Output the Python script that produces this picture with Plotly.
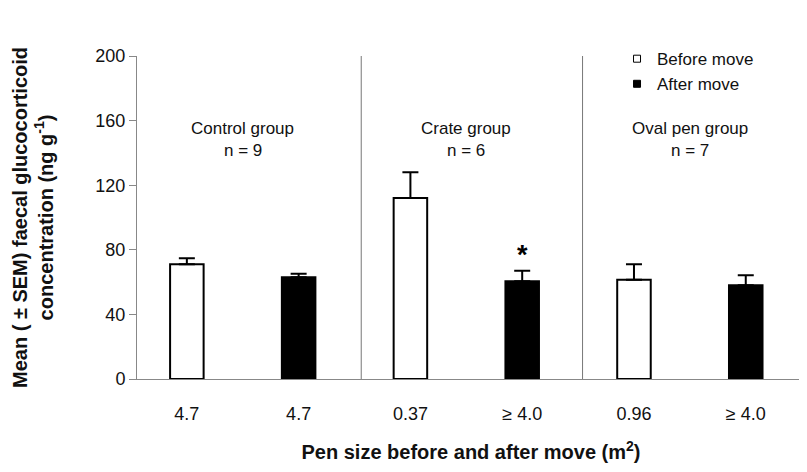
import plotly.graph_objects as go

x_pos = [0, 1, 2, 3, 4, 5]
tick_labels = ["4.7", "4.7", "0.37", "≥ 4.0", "0.96", "≥ 4.0"]
before_x = [0, 2, 4]
after_x = [1, 3, 5]
before_vals = [71, 112, 61.5]
before_err = [3.7, 16, 9.6]
after_vals = [63, 60.5, 58]
after_err = [2.2, 6.5, 6.3]
groups = ["Control group", "Crate group", "Oval pen group"]
group_n = ["n = 9", "n = 6", "n = 7"]
group_x = [0.5, 2.5, 4.5]
dividers = [1.56, 3.54]

FONT = "Liberation Sans, Arial, sans-serif"

fig = go.Figure()
fig.add_trace(go.Bar(
    x=before_x, y=before_vals, width=0.3,
    marker=dict(color="white", line=dict(color="black", width=2)),
    error_y=dict(type="data", array=before_err, arrayminus=[0]*3, symmetric=False,
                 color="black", thickness=2, width=8),
    showlegend=False))
fig.add_trace(go.Bar(
    x=after_x, y=after_vals, width=0.3,
    marker=dict(color="black", line=dict(color="black", width=2)),
    error_y=dict(type="data", array=after_err, arrayminus=[0]*3, symmetric=False,
                 color="black", thickness=2, width=8),
    showlegend=False))
# legend entries
fig.add_trace(go.Scatter(x=[None], y=[None], mode="markers", name="Before move",
                         marker=dict(symbol="square", size=7, color="white",
                                     line=dict(color="black", width=1))))
fig.add_trace(go.Scatter(x=[None], y=[None], mode="markers", name="After move",
                         marker=dict(symbol="square", size=7, color="black",
                                     line=dict(color="black", width=1))))

for d in dividers:
    fig.add_shape(type="line", xref="x", yref="y", x0=d, x1=d, y0=-4.5, y1=200,
                  line=dict(color="#777", width=1))

for gx, g, n in zip(group_x, groups, group_n):
    fig.add_annotation(x=gx, y=155, text=g, showarrow=False,
                       font=dict(size=17, color="#111", family=FONT))
    fig.add_annotation(x=gx, y=141.5, text=n, showarrow=False,
                       font=dict(size=17, color="#111", family=FONT))

fig.add_annotation(x=3, y=after_vals[1] + after_err[1] + 10, text="<b>*</b>", showarrow=False,
                   font=dict(size=27, color="black", family=FONT))

fig.update_layout(
    width=807, height=472,
    margin=dict(l=129, r=10, t=48, b=101),
    plot_bgcolor="white", paper_bgcolor="white",
    font=dict(family=FONT, size=17, color="#111"),
    barmode="overlay",
    legend=dict(x=0.7186, y=1.046, xanchor="left", yanchor="top",
                font=dict(size=17, color="#111"), bgcolor="rgba(0,0,0,0)",
                itemwidth=30, tracegroupgap=0),
    xaxis=dict(range=[-0.446, 5.53], tickmode="array", tickvals=x_pos,
               ticktext=tick_labels, showline=True, linecolor="#888", linewidth=1,
               ticks="", showgrid=False, zeroline=False, ticklabelstandoff=18,
               tickfont=dict(size=18, color="#111"),
               title=dict(text="<b>Pen size before and after move (m<sup>2</sup>)</b>",
                          font=dict(size=20, color="#111"), standoff=22)),
    yaxis=dict(range=[0, 200], tickvals=[0, 40, 80, 120, 160, 200],
               showline=True, linecolor="#888", linewidth=1, ticks="outside",
               ticklen=7, tickcolor="#888", showgrid=False, zeroline=False,
               tickfont=dict(size=18, color="#111"),
               title=dict(text="<b>Mean ( ± SEM) faecal glucocorticoid<br>concentration (ng g<sup>-1</sup>)</b>",
                          font=dict(size=20, color="#111"), standoff=36)),
)

fig.write_html("out.html")
